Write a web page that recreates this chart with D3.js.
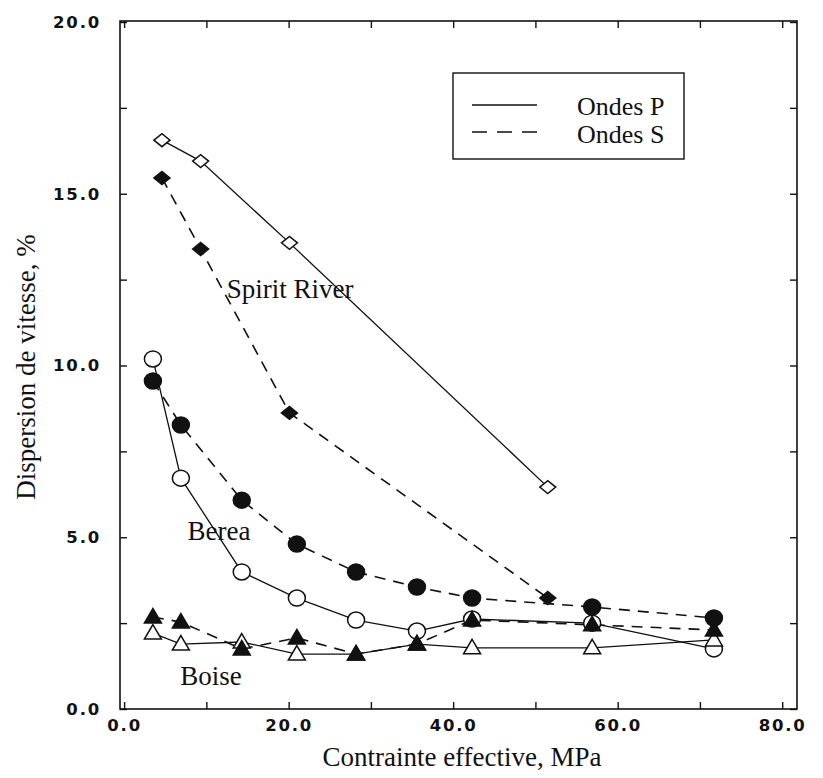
<!DOCTYPE html>
<html><head><meta charset="utf-8">
<script src="https://cdn.jsdelivr.net/npm/d3@7"></script>
<style>
html,body{margin:0;padding:0;background:#fff;}
svg{display:block;}
</style></head>
<body>
<svg id="chart" width="823" height="778"></svg>
<script>
// ---- data ----
const xBB = [3.5, 6.9, 14.3, 21.0, 28.2, 35.6, 42.3, 56.9, 71.7];
const xSR = [4.6, 9.3, 20.1, 51.5];
const spiritP = [16.56, 15.95, 13.57, 6.46];
const spiritS = [15.46, 13.39, 8.62, 3.23];
const bereaP = [10.19, 6.72, 3.99, 3.23, 2.59, 2.27, 2.62, 2.50, 1.75];
const bereaS = [9.55, 8.27, 6.08, 4.80, 3.99, 3.55, 3.23, 2.97, 2.65];
const boiseP = [2.21, 1.89, 1.95, 1.60, 1.60, 1.89, 1.78, 1.78, 2.01];
const boiseS = [2.68, 2.53, 1.75, 2.07, 1.60, 1.89, 2.59, 2.45, 2.30];
const xTickLabels = [0, 20, 40, 60, 80];
const yTickLabels = [0, 5, 10, 15, 20];
const xTitle = "Contrainte effective, MPa";
const yTitle = "Dispersion de vitesse, %";
const legendLabels = ["Ondes P", "Ondes S"];

const svg = d3.select("#chart");
const L = 120, R = 797, T = 21, B = 709;
const x = d3.scaleLinear().domain([-0.5, 81.8]).range([L, R]);
const y = d3.scaleLinear().domain([0, 20]).range([B, 22]);

const serif = "'Liberation Serif','Times New Roman',serif";
const sans = "'DejaVu Sans',sans-serif";

// frame
svg.append("rect").attr("x", L).attr("y", T).attr("width", R - L).attr("height", B - T)
  .attr("fill", "none").attr("stroke", "#111").attr("stroke-width", 1.6);

// inward ticks
const xMinor = d3.range(0, 81, 10);
const yMinor = d3.range(0, 20.1, 2.5);
svg.append("g").attr("transform", `translate(0,${B})`)
  .call(d3.axisTop(x).tickValues(xMinor).tickSize(7).tickFormat(""))
  .call(g => g.select(".domain").remove());
svg.append("g").attr("transform", `translate(0,${T})`)
  .call(d3.axisBottom(x).tickValues(xMinor).tickSize(7).tickFormat(""))
  .call(g => g.select(".domain").remove());
svg.append("g").attr("transform", `translate(${L},0)`)
  .call(d3.axisRight(y).tickValues(yMinor).tickSize(7).tickFormat(""))
  .call(g => g.select(".domain").remove());
svg.append("g").attr("transform", `translate(${R},0)`)
  .call(d3.axisLeft(y).tickValues(yMinor).tickSize(7).tickFormat(""))
  .call(g => g.select(".domain").remove());
svg.selectAll(".tick line").attr("stroke", "#111").attr("stroke-width", 1.4);

// tick labels
const xl = svg.append("g").attr("transform", `translate(0,${B})`)
  .call(d3.axisBottom(x).tickValues(xTickLabels).tickSize(0).tickPadding(10).tickFormat(d3.format(".1f")));
xl.select(".domain").remove();
xl.selectAll("text").attr("font-family", sans).attr("font-size", 16.5).attr("font-weight", "bold")
  .attr("letter-spacing", "1.8px").attr("fill", "#111").attr("dy", "0.75em");
const yl = svg.append("g").attr("transform", `translate(${L},0)`)
  .call(d3.axisLeft(y).tickValues(yTickLabels).tickSize(0).tickPadding(19).tickFormat(d3.format(".1f")));
yl.select(".domain").remove();
yl.selectAll("text").attr("font-family", sans).attr("font-size", 16.5).attr("font-weight", "bold")
  .attr("letter-spacing", "1.8px").attr("fill", "#111");

// titles
svg.append("text").attr("x", 462).attr("y", 766).attr("text-anchor", "middle")
  .attr("font-family", serif).attr("font-size", 27).attr("fill", "#111").text(xTitle);
svg.append("text").attr("transform", "translate(35,367) rotate(-90)").attr("text-anchor", "middle")
  .attr("font-family", serif).attr("font-size", 27).attr("fill", "#111").text(yTitle);

// series
const series = [
  {xs: xSR, ys: spiritP, dash: null, shape: "diamond", fill: "#fff"},
  {xs: xSR, ys: spiritS, dash: "11,8", shape: "diamond", fill: "#111"},
  {xs: xBB, ys: bereaP, dash: null, shape: "circle", fill: "#fff"},
  {xs: xBB, ys: bereaS, dash: "11,8", shape: "circle", fill: "#111"},
  {xs: xBB, ys: boiseP, dash: null, shape: "triangle", fill: "#fff"},
  {xs: xBB, ys: boiseS, dash: "11,8", shape: "triangle", fill: "#111"}
];
const line = d3.line().x(d => x(d[0])).y(d => y(d[1]));
series.forEach(s => {
  const pts = s.xs.map((v, i) => [v, s.ys[i]]);
  svg.append("path").attr("d", line(pts)).attr("fill", "none").attr("stroke", "#111")
    .attr("stroke-width", s.dash ? 1.6 : 1.3).attr("stroke-dasharray", s.dash);
});
function marker(g, shape, fill) {
  if (shape === "circle") {
    g.append("ellipse").attr("rx", 8.5).attr("ry", 8);
  } else if (shape === "diamond") {
    g.append("path").attr("d", "M-8,0L0,-6.5L8,0L0,6.5Z");
  } else {
    g.append("path").attr("d", "M0,-8.5L8.5,6L-8.5,6Z");
  }
  g.selectAll("*").attr("fill", fill).attr("stroke", "#111").attr("stroke-width", 1.5);
}
// draw open markers first, then filled
[0, 2, 4, 1, 3, 5].forEach(k => {
  const s = series[k];
  s.xs.forEach((v, i) => {
    const g = svg.append("g").attr("transform", `translate(${x(v)},${y(s.ys[i])})`);
    marker(g, s.shape, s.fill);
  });
});

// curve labels
const lab = [["Spirit River", 290, 298], ["Berea", 219, 540], ["Boise", 211, 685]];
lab.forEach(d => svg.append("text").attr("x", d[1]).attr("y", d[2]).attr("text-anchor", "middle")
  .attr("font-family", serif).attr("font-size", 27).attr("fill", "#111").text(d[0]));

// legend
svg.append("rect").attr("x", 453).attr("y", 73).attr("width", 231).attr("height", 86)
  .attr("fill", "#fff").attr("stroke", "#111").attr("stroke-width", 1.4);
svg.append("line").attr("x1", 472).attr("x2", 537).attr("y1", 105).attr("y2", 105)
  .attr("stroke", "#111").attr("stroke-width", 1.5);
svg.append("line").attr("x1", 472).attr("x2", 537).attr("y1", 132).attr("y2", 132)
  .attr("stroke", "#111").attr("stroke-width", 1.5).attr("stroke-dasharray", "15,10");
legendLabels.forEach((t, i) => svg.append("text").attr("x", 577).attr("y", 115 + i * 28)
  .attr("font-family", serif).attr("font-size", 26).attr("fill", "#111").text(t));
</script>
</body></html>
